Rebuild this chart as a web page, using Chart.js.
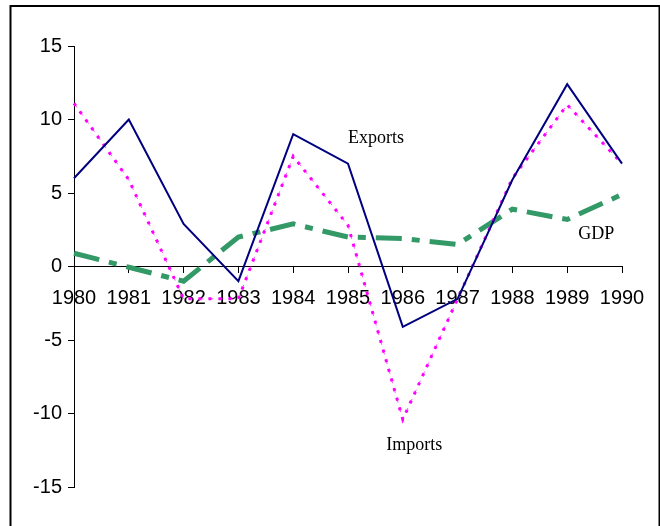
<!DOCTYPE html>
<html>
<head>
<meta charset="utf-8">
<script src="https://cdn.jsdelivr.net/npm/chart.js@4/dist/chart.umd.min.js"></script>
<style>
  html, body { margin: 0; padding: 0; background: #fff; }
  #wrap { position: relative; width: 660px; height: 526px; }
</style>
</head>
<body>
<div id="wrap"><canvas id="c" width="660" height="526"></canvas></div>
<script>
// Annual growth rates, %
const years = ['1980', '1981', '1982', '1983', '1984', '1985', '1986', '1987', '1988', '1989', '1990'];
const exportsGrowth = [6.0, 10.0, 2.9, -1.0, 9.0, 7.0, -4.1, -2.2, 5.9, 12.4, 7.0];
const importsGrowth = [11.1, 5.9, -2.2, -2.2, 7.5, 2.8, -10.4, -2.2, 6.0, 11.0, 7.0];
const gdpGrowth = [0.9, -0.05, -1.0, 2.0, 2.9, 2.0, 1.9, 1.5, 3.9, 3.2, 4.9];

// In-chart series labels: [text, category index, value]
const seriesLabels = [
  ['Exports', 5.0, 8.4],
  ['GDP', 9.2, 1.9],
  ['Imports', 5.7, -12.5]
];

const axisFont = { family: '"Liberation Sans", Arial, sans-serif', size: 20 };

const framePlugin = {
  id: 'frame',
  beforeDraw(chart) {
    const ctx = chart.ctx;
    ctx.save();
    ctx.fillStyle = '#fff';
    ctx.fillRect(0, 0, chart.width, chart.height);
    ctx.strokeStyle = '#000';
    ctx.lineWidth = 2;
    ctx.strokeRect(10.5, 6, 649, 560);
    ctx.restore();
  },
  afterDraw(chart) {
    const ctx = chart.ctx;
    const xs = chart.scales.x, ys = chart.scales.y;
    ctx.save();
    ctx.fillStyle = '#000';
    ctx.font = '18px "Liberation Serif", "Times New Roman", serif';
    ctx.textBaseline = 'alphabetic';
    ctx.textAlign = 'left';
    seriesLabels.forEach(([t, i, v]) => {
      ctx.fillText(t, xs.getPixelForValue(i), ys.getPixelForValue(v));
    });
    ctx.restore();
  }
};

new Chart(document.getElementById('c'), {
  type: 'line',
  data: {
    labels: years,
    datasets: [
      {
        label: 'Exports',
        data: exportsGrowth,
        borderColor: '#000080',
        borderWidth: 2,
        pointRadius: 0,
        tension: 0
      },
      {
        label: 'Imports',
        data: importsGrowth,
        borderColor: '#FF00FF',
        borderWidth: 3,
        borderDash: [3, 7],
        pointRadius: 0,
        tension: 0
      },
      {
        label: 'Imports (trace)',
        data: importsGrowth,
        borderColor: 'rgba(255,0,255,0.7)',
        borderWidth: 1,
        borderDash: [5, 5],
        pointRadius: 0,
        tension: 0
      },
      {
        label: 'GDP',
        data: gdpGrowth,
        borderColor: '#339966',
        borderWidth: 5,
        borderDash: [26, 10, 8, 10],
        pointRadius: 0,
        tension: 0
      }
    ]
  },
  options: {
    responsive: false,
    animation: false,
    events: [],
    layout: { padding: { left: 0, right: 38, top: 46, bottom: 39 } },
    plugins: { legend: { display: false }, tooltip: { enabled: false } },
    scales: {
      x: {
        type: 'category',
        offset: false,
        position: { y: 0 },
        grid: { drawOnChartArea: false, drawTicks: true, tickLength: 6, color: '#000', offset: false },
        border: { color: '#000', width: 1 },
        ticks: { color: '#000', font: axisFont, padding: 14, maxRotation: 0, autoSkip: false }
      },
      y: {
        min: -15,
        max: 15,
        afterFit(s) { s.width = 74; },
        grid: { drawOnChartArea: false, drawTicks: true, tickLength: 6, color: '#000' },
        border: { color: '#000', width: 1 },
        ticks: { stepSize: 5, color: '#000', font: axisFont, padding: 6 }
      }
    }
  },
  plugins: [framePlugin]
});
</script>
</body>
</html>
